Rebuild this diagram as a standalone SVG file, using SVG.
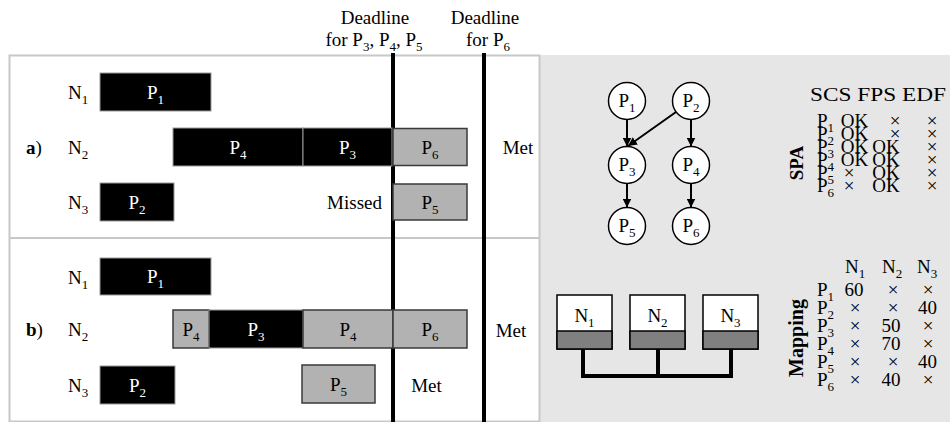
<svg xmlns="http://www.w3.org/2000/svg" width="950" height="422" viewBox="0 0 950 422" font-family="'Liberation Serif', 'DejaVu Serif', serif">
<defs>
<marker id="ah" viewBox="0 0 10 10" refX="10" refY="5" markerWidth="9" markerHeight="9" markerUnits="userSpaceOnUse" orient="auto"><path d="M0,0 L10,5 L0,10 z" fill="#000"/></marker>
</defs>
<style>
text{font-family:'Liberation Serif','DejaVu Serif',serif;font-size:19px;fill:#000}
.sub{font-size:13px}
.m{text-anchor:middle}
.wt{fill:#fff}
.blk{fill:#000;stroke:#9a9a9a;stroke-width:1}
.gry{fill:#b2b2b2;stroke:#3a3a3a;stroke-width:1.5}
.dl{stroke:#000;stroke-width:4}
.tb{font-size:19px}
.circ{fill:#fff;stroke:#000;stroke-width:1.5}
.edge{stroke:#000;stroke-width:2;fill:none;marker-end:url(#ah)}
.hw{fill:#fff;stroke:#000;stroke-width:1.5}
.hwb{fill:#808080;stroke:#000;stroke-width:1.5}
.bold{font-weight:bold}
</style>
<rect x="0" y="0" width="950" height="422" fill="#fff"/>
<rect x="540" y="55" width="410" height="367" fill="#e6e6e6"/>
<rect x="9.5" y="55.5" width="530" height="366" fill="#fff" stroke="#c8c8c8" stroke-width="2"/>
<line x1="9.5" y1="238" x2="539.5" y2="238" stroke="#c8c8c8" stroke-width="2"/>

<g id="deadlines">
<line class="dl" x1="393" y1="53" x2="393" y2="422"/>
<line class="dl" x1="484" y1="53" x2="484" y2="422"/>
<text class="m" x="375" y="24">Deadline</text>
<text class="m" x="374" y="46">for P<tspan class="sub" dy="5">3</tspan><tspan dy="-5">, P</tspan><tspan class="sub" dy="5">4</tspan><tspan dy="-5">, P</tspan><tspan class="sub" dy="5">5</tspan></text>
<text class="m" x="485" y="24">Deadline</text>
<text class="m" x="488" y="46">for P<tspan class="sub" dy="5">6</tspan></text>
</g>

<g id="schedule-a">
<text x="26" y="153.5"><tspan class="bold">a</tspan>)</text>
<text x="68" y="98.5">N<tspan class="sub" dy="5">1</tspan></text>
<text x="68" y="153.5">N<tspan class="sub" dy="5">2</tspan></text>
<text x="68" y="208.5">N<tspan class="sub" dy="5">3</tspan></text>
<rect class="blk" x="100" y="73" width="111" height="38"/>
<text class="m wt" x="155.5" y="98.5">P<tspan class="sub" dy="5">1</tspan></text>
<rect class="blk" x="173" y="128" width="130" height="38"/>
<text class="m wt" x="238" y="153.5">P<tspan class="sub" dy="5">4</tspan></text>
<rect class="blk" x="303" y="128" width="89" height="38"/>
<text class="m wt" x="347.5" y="153.5">P<tspan class="sub" dy="5">3</tspan></text>
<rect class="gry" x="393" y="128.5" width="74" height="37"/>
<text class="m" x="430" y="153.5">P<tspan class="sub" dy="5">6</tspan></text>
<rect class="blk" x="100" y="183" width="74" height="38"/>
<text class="m wt" x="137" y="208.5">P<tspan class="sub" dy="5">2</tspan></text>
<rect class="gry" x="393" y="184" width="74" height="36"/>
<text class="m" x="430" y="208.5">P<tspan class="sub" dy="5">5</tspan></text>
<text x="382" y="208.5" text-anchor="end">Missed</text>
<text class="m" x="518" y="153.5">Met</text>
</g>

<g id="schedule-b">
<text x="26" y="335.5"><tspan class="bold">b</tspan>)</text>
<text x="68" y="283.5">N<tspan class="sub" dy="5">1</tspan></text>
<text x="68" y="335.5">N<tspan class="sub" dy="5">2</tspan></text>
<text x="68" y="391.5">N<tspan class="sub" dy="5">3</tspan></text>
<rect class="blk" x="100" y="258" width="111" height="37"/>
<text class="m wt" x="155.5" y="283">P<tspan class="sub" dy="5">1</tspan></text>
<rect class="gry" x="173" y="310" width="36" height="38"/>
<text class="m" x="191" y="335.5">P<tspan class="sub" dy="5">4</tspan></text>
<rect class="blk" x="209" y="310" width="94" height="38"/>
<text class="m wt" x="256" y="335.5">P<tspan class="sub" dy="5">3</tspan></text>
<rect class="gry" x="303" y="310" width="90" height="38"/>
<text class="m" x="348" y="335.5">P<tspan class="sub" dy="5">4</tspan></text>
<rect class="gry" x="393" y="310" width="74" height="38"/>
<text class="m" x="430" y="335.5">P<tspan class="sub" dy="5">6</tspan></text>
<rect class="blk" x="100" y="366" width="75" height="38"/>
<text class="m wt" x="137.5" y="391.5">P<tspan class="sub" dy="5">2</tspan></text>
<rect class="gry" x="302" y="365" width="73" height="38"/>
<text class="m" x="338.5" y="391">P<tspan class="sub" dy="5">5</tspan></text>
<text class="m" x="426.5" y="392">Met</text>
<text class="m" x="511" y="337">Met</text>
</g>

<g id="connectors">
<line class="edge" x1="627" y1="119.5" x2="627" y2="146.5"/>
<line class="edge" x1="691" y1="119.5" x2="691" y2="146.5"/>
<line class="edge" x1="676" y1="112" x2="628" y2="146"/>
<line class="edge" x1="627" y1="183.5" x2="627" y2="207.5"/>
<line class="edge" x1="691" y1="183.5" x2="691" y2="207.5"/>
<path d="M583,349 V376 M658,349 V376 M731,349 V376 M581,376 H733" stroke="#000" stroke-width="4" fill="none"/>
</g>

<g id="P1"><circle class="circ" cx="627" cy="101" r="18.5"/><text class="m" x="627" y="107" style="font-size:19px">P<tspan class="sub" dy="5">1</tspan></text></g>
<g id="P2"><circle class="circ" cx="691" cy="101" r="18.5"/><text class="m" x="691" y="107" style="font-size:19px">P<tspan class="sub" dy="5">2</tspan></text></g>
<g id="P3"><circle class="circ" cx="627" cy="165" r="18.5"/><text class="m" x="627" y="171" style="font-size:19px">P<tspan class="sub" dy="5">3</tspan></text></g>
<g id="P4"><circle class="circ" cx="691" cy="165" r="18.5"/><text class="m" x="691" y="171" style="font-size:19px">P<tspan class="sub" dy="5">4</tspan></text></g>
<g id="P5"><circle class="circ" cx="627" cy="226" r="18.5"/><text class="m" x="627" y="232" style="font-size:19px">P<tspan class="sub" dy="5">5</tspan></text></g>
<g id="P6"><circle class="circ" cx="691" cy="226" r="18.5"/><text class="m" x="691" y="232" style="font-size:19px">P<tspan class="sub" dy="5">6</tspan></text></g>

<g id="N1"><rect class="hw" x="557" y="295" width="55" height="54"/><rect class="hwb" x="557" y="331" width="55" height="18"/><text class="m" x="584.5" y="322">N<tspan class="sub" dy="5">1</tspan></text></g>
<g id="N2"><rect class="hw" x="630" y="295" width="55" height="54"/><rect class="hwb" x="630" y="331" width="55" height="18"/><text class="m" x="657.5" y="322">N<tspan class="sub" dy="5">2</tspan></text></g>
<g id="N3"><rect class="hw" x="703" y="295" width="55" height="54"/><rect class="hwb" x="703" y="331" width="55" height="18"/><text class="m" x="730.5" y="322">N<tspan class="sub" dy="5">3</tspan></text></g>

<g id="spa-table">
<text class="bold" transform="translate(803,163) rotate(-90)" text-anchor="middle" style="font-size:19px">SPA</text>
<text class="tb" x="810" y="101" textLength="136" lengthAdjust="spacingAndGlyphs">SCS FPS EDF</text>
<text class="tb" x="817" y="127">P<tspan class="sub" dy="5">1</tspan></text>
<text class="tb" x="817" y="140">P<tspan class="sub" dy="5">2</tspan></text>
<text class="tb" x="817" y="153">P<tspan class="sub" dy="5">3</tspan></text>
<text class="tb" x="817" y="166">P<tspan class="sub" dy="5">4</tspan></text>
<text class="tb" x="817" y="179">P<tspan class="sub" dy="5">5</tspan></text>
<text class="tb" x="817" y="192">P<tspan class="sub" dy="5">6</tspan></text>
<text class="m tb" x="854.5" y="127">OK</text><text class="m tb" x="895" y="127">×</text><text class="m tb" x="932" y="127">×</text>
<text class="m tb" x="854.5" y="140">OK</text><text class="m tb" x="895" y="140">×</text><text class="m tb" x="932" y="140">×</text>
<text class="m tb" x="854.5" y="153">OK</text><text class="m tb" x="886" y="153">OK</text><text class="m tb" x="932" y="153">×</text>
<text class="m tb" x="854.5" y="166">OK</text><text class="m tb" x="886" y="166">OK</text><text class="m tb" x="932" y="166">×</text>
<text class="m tb" x="849" y="179">×</text><text class="m tb" x="886" y="179">OK</text><text class="m tb" x="932" y="179">×</text>
<text class="m tb" x="849" y="192">×</text><text class="m tb" x="886" y="192">OK</text><text class="m tb" x="932" y="192">×</text>
</g>

<g id="mapping-table">
<text class="bold" transform="translate(803,338) rotate(-90)" text-anchor="middle" style="font-size:20px">Mapping</text>
<text class="tb" x="845" y="273">N<tspan class="sub" dy="5">1</tspan></text>
<text class="tb" x="882" y="273">N<tspan class="sub" dy="5">2</tspan></text>
<text class="tb" x="917" y="273">N<tspan class="sub" dy="5">3</tspan></text>
<text class="tb" x="817" y="296">P<tspan class="sub" dy="5">1</tspan></text>
<text class="tb" x="817" y="314">P<tspan class="sub" dy="5">2</tspan></text>
<text class="tb" x="817" y="332">P<tspan class="sub" dy="5">3</tspan></text>
<text class="tb" x="817" y="350">P<tspan class="sub" dy="5">4</tspan></text>
<text class="tb" x="817" y="368">P<tspan class="sub" dy="5">5</tspan></text>
<text class="tb" x="817" y="386">P<tspan class="sub" dy="5">6</tspan></text>
<text class="m tb" x="854" y="296">60</text><text class="m tb" x="893" y="296">×</text><text class="m tb" x="928" y="296">×</text>
<text class="m tb" x="855" y="314">×</text><text class="m tb" x="893" y="314">×</text><text class="m tb" x="927.5" y="314">40</text>
<text class="m tb" x="855" y="332">×</text><text class="m tb" x="891" y="332">50</text><text class="m tb" x="928" y="332">×</text>
<text class="m tb" x="855" y="350">×</text><text class="m tb" x="891" y="350">70</text><text class="m tb" x="928" y="350">×</text>
<text class="m tb" x="855" y="368">×</text><text class="m tb" x="893" y="368">×</text><text class="m tb" x="927.5" y="368">40</text>
<text class="m tb" x="855" y="386">×</text><text class="m tb" x="891" y="386">40</text><text class="m tb" x="928" y="386">×</text>
</g>
</svg>
